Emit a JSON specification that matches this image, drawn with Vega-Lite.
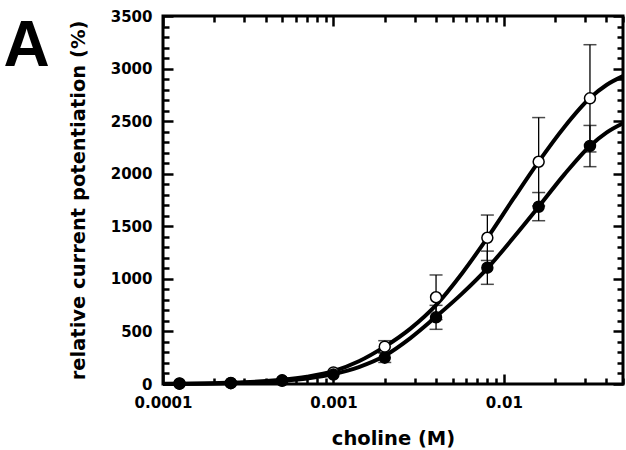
{
  "$schema": "https://vega.github.io/schema/vega-lite/v6.json",
  "autosize": "none",
  "padding": {"left": 163, "top": 16, "right": 3, "bottom": 66},
  "width": 460,
  "height": 368,
  "background": "white",
  "config": {"view": {"stroke": "black", "strokeWidth": 3}},
  "datasets": {
    "curves": [
      {"c": 0.0001, "v": 2, "s": "open"},
      {"c": 0.0002, "v": 8, "s": "open"},
      {"c": 0.0003, "v": 16, "s": "open"},
      {"c": 0.0005, "v": 40, "s": "open"},
      {"c": 0.0007, "v": 70, "s": "open"},
      {"c": 0.001, "v": 122, "s": "open"},
      {"c": 0.00141, "v": 216, "s": "open"},
      {"c": 0.002, "v": 355, "s": "open"},
      {"c": 0.00283, "v": 527, "s": "open"},
      {"c": 0.004, "v": 750, "s": "open"},
      {"c": 0.00566, "v": 1049, "s": "open"},
      {"c": 0.008, "v": 1390, "s": "open"},
      {"c": 0.0113, "v": 1755, "s": "open"},
      {"c": 0.016, "v": 2115, "s": "open"},
      {"c": 0.0226, "v": 2443, "s": "open"},
      {"c": 0.032, "v": 2720, "s": "open"},
      {"c": 0.04, "v": 2844, "s": "open"},
      {"c": 0.05, "v": 2928, "s": "open"},
      {"c": 0.0001, "v": 1, "s": "filled"},
      {"c": 0.0002, "v": 5, "s": "filled"},
      {"c": 0.0003, "v": 11, "s": "filled"},
      {"c": 0.0005, "v": 30, "s": "filled"},
      {"c": 0.0007, "v": 52, "s": "filled"},
      {"c": 0.001, "v": 95, "s": "filled"},
      {"c": 0.00141, "v": 161, "s": "filled"},
      {"c": 0.002, "v": 268, "s": "filled"},
      {"c": 0.00283, "v": 436, "s": "filled"},
      {"c": 0.004, "v": 640, "s": "filled"},
      {"c": 0.00566, "v": 857, "s": "filled"},
      {"c": 0.008, "v": 1100, "s": "filled"},
      {"c": 0.0113, "v": 1386, "s": "filled"},
      {"c": 0.016, "v": 1686, "s": "filled"},
      {"c": 0.0226, "v": 1991, "s": "filled"},
      {"c": 0.032, "v": 2264, "s": "filled"},
      {"c": 0.04, "v": 2391, "s": "filled"},
      {"c": 0.05, "v": 2480, "s": "filled"}
    ],
    "points": [
      {"c": 0.000125, "v": 5, "s": "open"},
      {"c": 0.00025, "v": 10, "s": "open"},
      {"c": 0.0005, "v": 35, "s": "open"},
      {"c": 0.001, "v": 110, "s": "open"},
      {"c": 0.002, "v": 355, "lo": 298, "hi": 412, "s": "open"},
      {"c": 0.004, "v": 825, "lo": 613, "hi": 1037, "s": "open"},
      {"c": 0.008, "v": 1391, "lo": 1175, "hi": 1607, "s": "open"},
      {"c": 0.016, "v": 2114, "lo": 1694, "hi": 2534, "s": "open"},
      {"c": 0.032, "v": 2717, "lo": 2207, "hi": 3227, "s": "open"},
      {"c": 0.000125, "v": 3, "s": "filled"},
      {"c": 0.00025, "v": 8, "s": "filled"},
      {"c": 0.0005, "v": 31, "s": "filled"},
      {"c": 0.001, "v": 90, "s": "filled"},
      {"c": 0.002, "v": 250, "lo": 205, "hi": 295, "s": "filled"},
      {"c": 0.004, "v": 634, "lo": 520, "hi": 748, "s": "filled"},
      {"c": 0.008, "v": 1106, "lo": 948, "hi": 1264, "s": "filled"},
      {"c": 0.016, "v": 1686, "lo": 1553, "hi": 1821, "s": "filled"},
      {"c": 0.032, "v": 2264, "lo": 2067, "hi": 2459, "s": "filled"}
    ]
  },
  "resolve": {"axis": {"x": "independent", "y": "independent"}},
  "layer": [
    {
      "data": {"name": "curves"},
      "mark": {"type": "line", "stroke": "black", "strokeWidth": 4, "interpolate": "monotone"},
      "encoding": {
        "x": {"field": "c", "type": "quantitative", "scale": {"type": "log", "domain": [0.0001, 0.05], "nice": false},
          "axis": {"orient": "bottom", "values": [0.0001,0.0002,0.0003,0.0004,0.0005,0.0006,0.0007,0.0008,0.0009,0.001,0.002,0.003,0.004,0.005,0.006,0.007,0.008,0.009,0.01,0.02,0.03,0.04,0.05],
            "labelExpr": "datum.value == 0.0001 ? '0.0001' : datum.value == 0.001 ? '0.001' : datum.value == 0.01 ? '0.01' : ''",
            "tickSize": {"condition": {"test": "datum.value == 0.0001 || datum.value == 0.001 || datum.value == 0.01", "value": -10}, "value": -6},
            "tickWidth": 2.5, "tickColor": "black", "domain": false, "grid": false,
            "labelFont": "DejaVu Sans", "labelFontWeight": "bold", "labelFontSize": 15, "labelColor": "black",
            "labelPadding": 21, "labelOverlap": false, "labelFlush": false, "labelBound": false,
            "title": "choline (M)", "titleFont": "DejaVu Sans", "titleFontWeight": "bold", "titleFontSize": 19.5, "titleColor": "black", "titlePadding": 15}},
        "y": {"field": "v", "type": "quantitative", "scale": {"domain": [0, 3500], "nice": false},
          "axis": {"orient": "left", "values": [0,100,200,300,400,500,600,700,800,900,1000,1100,1200,1300,1400,1500,1600,1700,1800,1900,2000,2100,2200,2300,2400,2500,2600,2700,2800,2900,3000,3100,3200,3300,3400,3500],
            "labelExpr": "datum.value % 500 == 0 ? format(datum.value, 'd') : ''",
            "tickSize": {"condition": {"test": "datum.value % 500 == 0", "value": -10}, "value": -6},
            "tickWidth": 2.5, "tickColor": "black", "domain": false, "grid": false,
            "labelFont": "DejaVu Sans", "labelFontWeight": "bold", "labelFontSize": 15, "labelColor": "black",
            "labelPadding": 21, "labelOverlap": false, "labelFlush": false, "labelBound": false,
            "title": "relative current potentiation (%)", "titleFont": "DejaVu Sans", "titleFontWeight": "bold", "titleFontSize": 19.5, "titleColor": "black", "titlePadding": 22}},
        "detail": {"field": "s", "type": "nominal"}
      }
    },
    {
      "data": {"name": "points"},
      "transform": [{"filter": "isValid(datum.lo)"}],
      "mark": {"type": "rule", "stroke": "black", "strokeWidth": 1.3},
      "encoding": {
        "x": {"field": "c", "type": "quantitative", "axis": null},
        "y": {"field": "lo", "type": "quantitative", "axis": null},
        "y2": {"field": "hi"}
      }
    },
    {
      "data": {"name": "points"},
      "transform": [{"filter": "isValid(datum.lo)"}],
      "mark": {"type": "tick", "orient": "horizontal", "color": "black", "size": 13, "thickness": 1.5},
      "encoding": {
        "x": {"field": "c", "type": "quantitative", "axis": null},
        "y": {"field": "lo", "type": "quantitative", "axis": null}
      }
    },
    {
      "data": {"name": "points"},
      "transform": [{"filter": "isValid(datum.hi)"}],
      "mark": {"type": "tick", "orient": "horizontal", "color": "black", "size": 13, "thickness": 1.5},
      "encoding": {
        "x": {"field": "c", "type": "quantitative", "axis": null},
        "y": {"field": "hi", "type": "quantitative", "axis": null}
      }
    },
    {
      "data": {"name": "points"},
      "mark": {"type": "point", "shape": "circle", "size": 120, "stroke": "black", "strokeWidth": 1.5, "opacity": 1, "filled": true},
      "encoding": {
        "x": {"field": "c", "type": "quantitative",
          "axis": {"orient": "top", "values": [0.0001,0.0002,0.0003,0.0004,0.0005,0.0006,0.0007,0.0008,0.0009,0.001,0.002,0.003,0.004,0.005,0.006,0.007,0.008,0.009,0.01,0.02,0.03,0.04,0.05],
            "labels": false, "domain": false, "grid": false,
            "tickSize": {"condition": {"test": "datum.value == 0.0001 || datum.value == 0.001 || datum.value == 0.01", "value": -10}, "value": -6},
            "tickWidth": 2.5, "tickColor": "black",
            "title": "A", "titleX": -160, "titleY": 49, "titleAngle": 0, "titleAlign": "left", "titleBaseline": "alphabetic",
            "titleFont": "Liberation Sans", "titleFontSize": 64, "titleFontWeight": "bold", "titleColor": "black"}},
        "y": {"field": "v", "type": "quantitative",
          "axis": {"orient": "right", "values": [0,100,200,300,400,500,600,700,800,900,1000,1100,1200,1300,1400,1500,1600,1700,1800,1900,2000,2100,2200,2300,2400,2500,2600,2700,2800,2900,3000,3100,3200,3300,3400,3500],
            "labels": false, "title": null, "domain": false, "grid": false,
            "tickSize": {"condition": {"test": "datum.value % 500 == 0", "value": -10}, "value": -6},
            "tickWidth": 2.5, "tickColor": "black"}},
        "fill": {"field": "s", "type": "nominal", "scale": {"domain": ["open", "filled"], "range": ["white", "black"]}, "legend": null}
      }
    }
  ]
}
